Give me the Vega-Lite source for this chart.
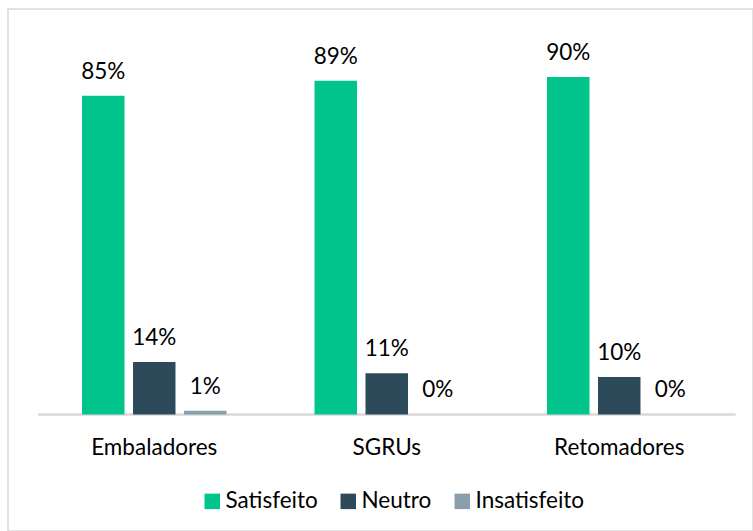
{
  "$schema": "https://vega.github.io/schema/vega-lite/v6.json",
  "width": 745,
  "height": 522,
  "autosize": {"type": "none"},
  "padding": {"left": 8, "top": 9, "right": 0, "bottom": 0},
  "background": "white",
  "config": {
    "font": "Lato",
    "view": {"stroke": "#d9d9d9", "strokeWidth": 1.5}
  },
  "data": {
    "values": [
      {"grupo": "Embaladores", "serie": "Satisfeito", "valor": 0.85},
      {"grupo": "Embaladores", "serie": "Neutro", "valor": 0.14},
      {"grupo": "Embaladores", "serie": "Insatisfeito", "valor": 0.01},
      {"grupo": "SGRUs", "serie": "Satisfeito", "valor": 0.89},
      {"grupo": "SGRUs", "serie": "Neutro", "valor": 0.11},
      {"grupo": "SGRUs", "serie": "Insatisfeito", "valor": 0.0},
      {"grupo": "Retomadores", "serie": "Satisfeito", "valor": 0.90},
      {"grupo": "Retomadores", "serie": "Neutro", "valor": 0.10},
      {"grupo": "Retomadores", "serie": "Insatisfeito", "valor": 0.0}
    ]
  },
  "encoding": {
    "x": {
      "field": "grupo",
      "type": "nominal",
      "sort": ["Embaladores", "SGRUs", "Retomadores"],
      "scale": {"paddingInner": 0, "paddingOuter": 0.10215, "align": 0.6316},
      "axis": {
        "title": null,
        "orient": "bottom",
        "offset": -116,
        "domain": false,
        "ticks": false,
        "grid": false,
        "labelAngle": 0,
        "labelFont": "Lato",
        "labelFontSize": 22.5,
        "labelColor": "#000000",
        "labelPadding": 21
      }
    },
    "y": {
      "field": "valor",
      "type": "quantitative",
      "scale": {"domain": [-0.3107, 1.0813], "nice": false, "zero": false},
      "axis": null
    }
  },
  "layer": [
    {
      "mark": {"type": "tick", "color": "#d9d9d9", "thickness": 2, "size": 232.5, "orient": "horizontal"},
      "encoding": {
        "y": {"datum": 0}
      }
    },
    {
      "mark": {"type": "bar"},
      "encoding": {
        "xOffset": {
          "field": "serie",
          "type": "nominal",
          "sort": ["Satisfeito", "Neutro", "Insatisfeito"],
          "scale": {"paddingInner": 0.167, "paddingOuter": 0.863}
        },
        "y2": {"datum": 0},
        "color": {
          "field": "serie",
          "type": "nominal",
          "sort": ["Satisfeito", "Neutro", "Insatisfeito"],
          "scale": {"domain": ["Satisfeito", "Neutro", "Insatisfeito"], "range": ["#00C48C", "#2C4A5A", "#8A9FAC"]},
          "legend": {
            "title": null,
            "orient": "none",
            "direction": "horizontal",
            "legendX": 193,
            "legendY": 481,
            "symbolType": "square",
            "symbolSize": 240,
            "symbolStrokeWidth": 0,
            "symbolOpacity": 1,
            "labelFont": "Lato",
            "labelFontSize": 22.5,
            "labelColor": "#000000",
            "labelOffset": 2,
            "columnPadding": 19,
            "padding": 0
          }
        }
      }
    },
    {
      "mark": {"type": "text", "baseline": "alphabetic", "dy": -17, "fontSize": 22.5, "font": "Lato", "color": "#000000"},
      "encoding": {
        "xOffset": {
          "field": "serie",
          "type": "nominal",
          "sort": ["Satisfeito", "Neutro", "Insatisfeito"]
        },
        "text": {"field": "valor", "type": "quantitative", "format": ".0%"}
      }
    }
  ]
}
